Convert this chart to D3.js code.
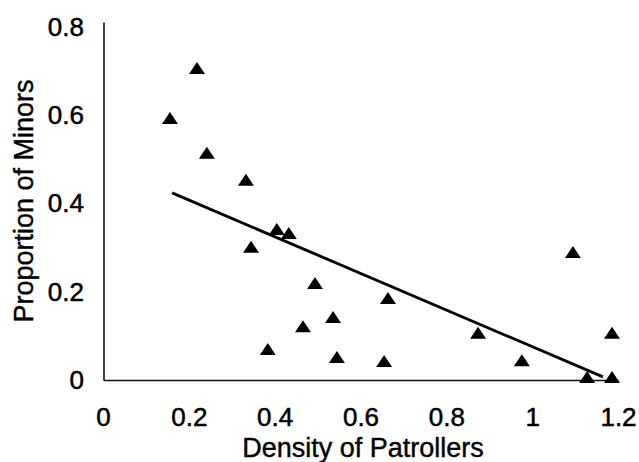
<!DOCTYPE html>
<html>
<head>
<meta charset="utf-8">
<script src="https://cdn.jsdelivr.net/npm/d3@7"></script>
<style>
body { margin: 0; background: #fff; }
svg { display: block; }
</style>
</head>
<body>
<script>
// patroller density vs proportion of minors
const density = [0.156, 0.219, 0.242, 0.333, 0.345, 0.405, 0.433, 0.494, 0.384, 0.466, 0.536, 0.545, 0.655, 0.664, 0.874, 0.976, 1.095, 1.128, 1.186, 1.186];
const minors = [0.594, 0.707, 0.515, 0.454, 0.302, 0.342, 0.333, 0.220, 0.070, 0.122, 0.143, 0.052, 0.043, 0.186, 0.107, 0.045, 0.290, 0.007, 0.107, 0.007];

// trend line end points
const trendX = [0.161, 1.165];
const trendY = [0.424, 0.007];

const xTicks = [0, 0.2, 0.4, 0.6, 0.8, 1, 1.2];
const yTicks = [0, 0.2, 0.4, 0.6, 0.8];

const width = 639, height = 462;
const font = "'Liberation Sans', Arial, sans-serif";

const svg = d3.select("body").append("svg").attr("width", width).attr("height", height);

const x = d3.scaleLinear().domain([0, 1.2]).range([103, 618]);
const y = d3.scaleLinear().domain([0, 0.8]).range([380, 27]);

const xAxis = svg.append("g").attr("transform", `translate(0,${y(0)})`)
  .call(d3.axisBottom(x).tickValues(xTicks).tickFormat(d3.format("~g")).tickSize(0).tickPadding(28));
const yAxis = svg.append("g").attr("transform", `translate(${x(0) + 1},0)`)
  .call(d3.axisLeft(y).tickValues(yTicks).tickFormat(d3.format("~g")).tickSize(0).tickPadding(20));

[xAxis, yAxis].forEach(g => {
  g.select(".domain").attr("stroke", "#111").attr("stroke-width", 1.6);
  g.selectAll("text").attr("font-family", font).attr("font-size", 26).attr("fill", "#000")
    .attr("stroke", "#000").attr("stroke-width", 0.5);
});
yAxis.select(".domain").attr("d", `M0,${y(0)}V${y(0.81)}`);

// trend line
svg.append("line")
  .attr("x1", x(trendX[0])).attr("y1", y(trendY[0]))
  .attr("x2", x(trendX[1])).attr("y2", y(trendY[1]))
  .attr("stroke", "#000").attr("stroke-width", 2.8);

// triangle markers
const pts = density.map((d, i) => [d, minors[i]]);
svg.append("g").selectAll("path")
  .data(pts)
  .enter()
  .append("path")
  .attr("d", d => {
    const cx = x(d[0]), cy = y(d[1]);
    return `M${cx - 8},${cy + 6}L${cx},${cy - 6}L${cx + 8},${cy + 6}Z`;
  })
  .attr("fill", "#000");

// axis titles
svg.append("text")
  .attr("x", 363).attr("y", 457)
  .attr("text-anchor", "middle")
  .attr("font-family", font).attr("font-size", 27)
  .attr("stroke", "#000").attr("stroke-width", 0.4)
  .text("Density of Patrollers");

svg.append("text")
  .attr("transform", "translate(33,201) rotate(-90)")
  .attr("text-anchor", "middle")
  .attr("font-family", font).attr("font-size", 27)
  .attr("stroke", "#000").attr("stroke-width", 0.4)
  .text("Proportion of Minors");
</script>
</body>
</html>
